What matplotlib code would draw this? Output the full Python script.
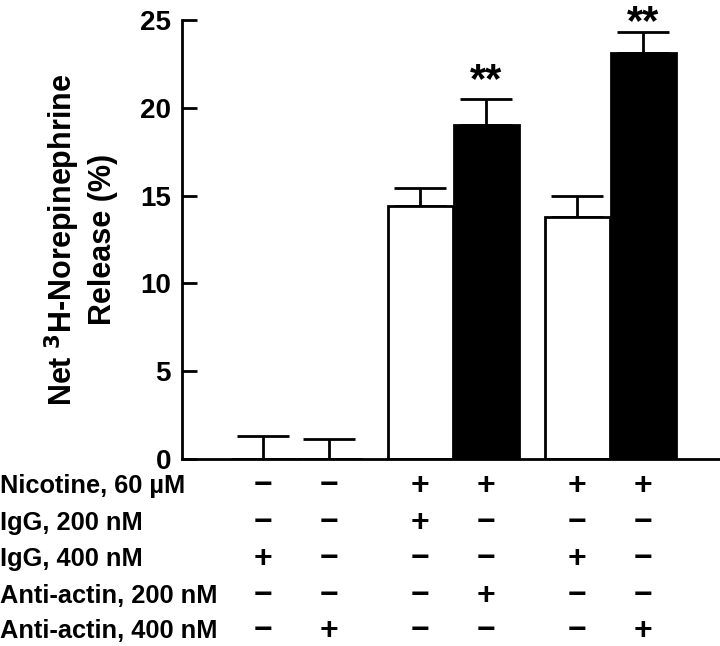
import numpy as np
import matplotlib
matplotlib.use("Agg")
import matplotlib.pyplot as plt
import matplotlib.transforms as mtransforms

plt.rcParams['font.family'] = ['Liberation Sans', 'DejaVu Sans']

# ------------ data ---------------
values = [0.0, 0.0, 14.4, 19.0, 13.8, 23.1]
errors = [1.3, 1.15, 1.05, 1.5, 1.2, 1.2]
colors = ['white', 'white', 'white', 'black', 'white', 'black']
stars = ['', '', '', '**', '', '**']

row_labels = ['Nicotine, 60 \u00b5M', 'IgG, 200 nM', 'IgG, 400 nM',
              'Anti-actin, 200 nM', 'Anti-actin, 400 nM']
signs = [
    ['\u2212', '\u2212', '+', '+', '+', '+'],
    ['\u2212', '\u2212', '+', '\u2212', '\u2212', '\u2212'],
    ['+', '\u2212', '\u2212', '\u2212', '+', '\u2212'],
    ['\u2212', '\u2212', '\u2212', '+', '\u2212', '\u2212'],
    ['\u2212', '+', '\u2212', '\u2212', '\u2212', '+'],
]

# bar positions (two singles, then two pairs)
xpos = np.array([0, 1, 2.38, 3.38, 4.76, 5.76])

fig = plt.figure(figsize=(7.2, 6.46), dpi=100)
ax = fig.add_axes([0.2528, 0.2895, 0.7472, 0.6795])

ax.bar(xpos, values, width=0.98, color=colors, edgecolor='black',
       linewidth=2, zorder=2)
ax.errorbar(xpos, values, yerr=[np.zeros(len(errors)), errors], fmt='none',
            ecolor='black', elinewidth=2, capsize=18.5, capthick=2, zorder=1)

# significance marks; the last one sits close under the top edge
for x, v, e, s in zip(xpos, values, errors, stars):
    if s:
        top = min(v + e + 1.0, 24.85)
        ax.text(x, top, s, ha='center', va='center',
                fontsize=30, fontweight='bold')

ax.set_xlim(-1.23, 6.92)
ax.set_ylim(0, 25)
ax.set_yticks([0, 5, 10, 15, 20, 25])
ax.set_xticks([])
ax.tick_params(axis='y', direction='in', length=11, width=2,
               labelsize=20, pad=8)
for lab in ax.get_yticklabels():
    lab.set_fontweight('bold')
for side in ['top', 'right']:
    ax.spines[side].set_visible(False)
ax.spines['left'].set_linewidth(2)
ax.spines['bottom'].set_linewidth(2)
ax.spines['left'].set_zorder(3)
ax.spines['bottom'].set_zorder(3)
ax.patch.set_visible(False)

ax.set_ylabel('Net $\\mathbf{^{3}}$H-Norepinephrine\nRelease (%)',
              fontsize=22, fontweight='bold', labelpad=16, linespacing=1.25)

# condition table under the axis
trans = mtransforms.blended_transform_factory(ax.transData, fig.transFigure)
row_y = [1 - 486 / 646, 1 - 523 / 646, 1 - 559 / 646, 1 - 596 / 646, 1 - 631 / 646]
for label, y, row in zip(row_labels, row_y, signs):
    fig.text(0.0, y, label, ha='left', va='center', fontsize=18.3,
             fontweight='bold')
    for x, s in zip(xpos, row):
        ax.text(x, y, s, transform=trans, ha='center', va='center',
                fontsize=23, fontweight='bold', clip_on=False)

fig.savefig('out.png', dpi=100)
